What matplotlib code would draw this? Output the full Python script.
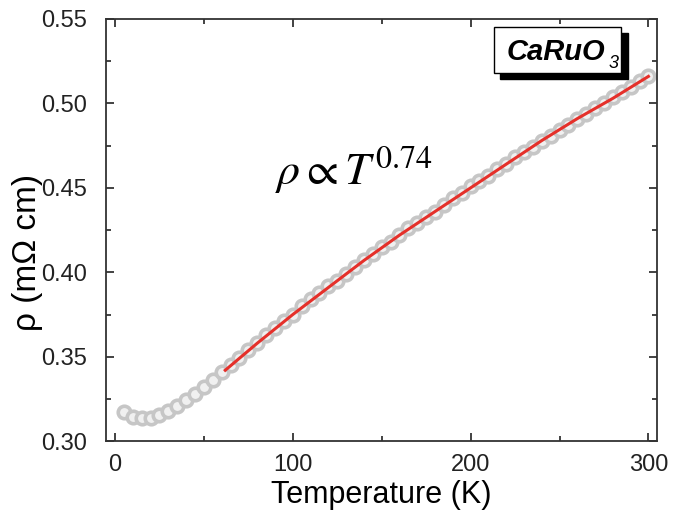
import numpy as np
import matplotlib
matplotlib.use("Agg")
import matplotlib.pyplot as plt
from matplotlib.patches import Rectangle
from matplotlib.ticker import MultipleLocator

plt.rcParams["font.family"] = ["Liberation Sans", "DejaVu Sans"]
plt.rcParams["mathtext.fontset"] = "stix"

# measured resistivity of CaRuO3, every 5 K
temperature = list(range(5, 305, 5))
rho = [0.317, 0.3145, 0.3135, 0.314, 0.3155, 0.318, 0.321, 0.3245, 0.328, 0.332,
       0.336, 0.341, 0.345, 0.349, 0.354, 0.358, 0.363, 0.367, 0.371, 0.375,
       0.380, 0.384, 0.388, 0.392, 0.395, 0.399, 0.403, 0.407, 0.411, 0.415,
       0.418, 0.422, 0.426, 0.429, 0.433, 0.436, 0.440, 0.444, 0.447, 0.451,
       0.454, 0.457, 0.461, 0.464, 0.468, 0.471, 0.474, 0.478, 0.481, 0.484,
       0.487, 0.491, 0.494, 0.497, 0.500, 0.504, 0.507, 0.510, 0.513, 0.516]

# power-law fit rho ~ T^0.74 above ~60 K
fit_T = [62, 80, 100, 120, 140, 160, 180, 200, 220, 240, 260, 280, 300]
fit_rho = [0.342, 0.358, 0.375, 0.391, 0.407, 0.422, 0.436, 0.450, 0.464, 0.478, 0.491, 0.503, 0.516]

fig = plt.figure(figsize=(6.89, 5.13), dpi=100)
ax = fig.add_axes([0.154, 0.140, 0.800, 0.823])

ax.plot(temperature, rho, "o", ms=9, mfc="#f0f0f0", mec="#c6c6c6", mew=2.6, zorder=2)
ax.plot(fit_T, fit_rho, "-", color="#e5302a", lw=2.2, zorder=3)

ax.set_xlim(-5, 305)
ax.set_ylim(0.30, 0.55)
ax.xaxis.set_major_locator(MultipleLocator(100))
ax.xaxis.set_minor_locator(MultipleLocator(50))
ax.yaxis.set_major_locator(MultipleLocator(0.05))
ax.yaxis.set_minor_locator(MultipleLocator(0.025))
ax.yaxis.set_major_formatter(matplotlib.ticker.FormatStrFormatter("%.2f"))
ax.tick_params(which="both", direction="in", top=True, right=True, width=1.2, colors="#222222")
ax.tick_params(which="major", length=6, labelsize=17)
ax.tick_params(axis="x", which="major", pad=9)
ax.tick_params(axis="y", which="major", pad=14)
ax.tick_params(which="minor", length=3.5)
for s in ax.spines.values():
    s.set_linewidth(1.3)
    s.set_color("#333333")

ax.set_xlabel("Temperature (K)", fontsize=22, labelpad=3)
ax.set_ylabel("ρ (mΩ cm)", fontsize=24)
ax.yaxis.set_label_coords(-0.114, 0.448)

ax.text(0.307, 0.607, r"$\rho \propto T^{\mathrm{0.74}}$", transform=ax.transAxes,
        fontsize=33, ha="left", va="baseline")

# sample label box with drop shadow
ax.add_patch(Rectangle((0.714, 0.858), 0.232, 0.108, transform=ax.transAxes,
                       facecolor="black", edgecolor="black", zorder=4, clip_on=False))
ax.add_patch(Rectangle((0.703, 0.872), 0.232, 0.108, transform=ax.transAxes,
                       facecolor="white", edgecolor="black", lw=1.0, zorder=5, clip_on=False))
ax.text(0.727, 0.904, "CaRuO", transform=ax.transAxes, fontsize=21,
        fontweight="bold", fontstyle="italic", ha="left", va="baseline", zorder=6)
ax.text(0.911, 0.884, "3", transform=ax.transAxes, fontsize=13,
        fontstyle="italic", ha="left", va="baseline", zorder=6)

fig.savefig("out.png", dpi=100)
